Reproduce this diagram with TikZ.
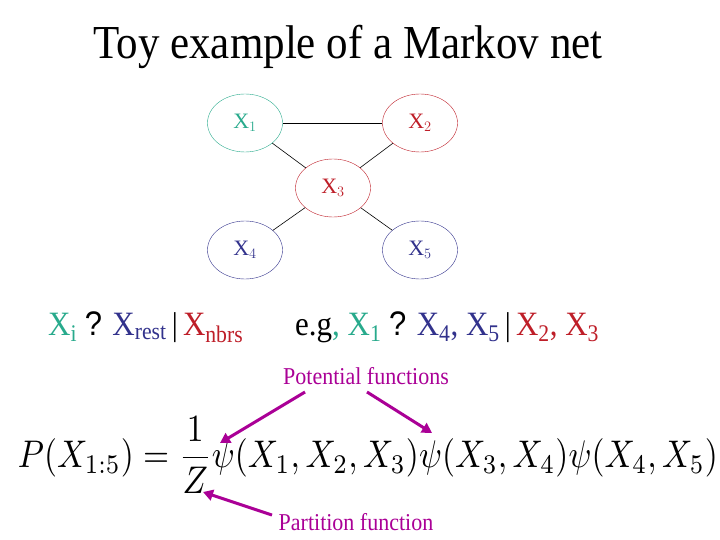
\documentclass[tikz,border=0pt]{standalone}
\usepackage{fontspec}
\usepackage{amsmath}
\setmainfont{Liberation Serif}
\newfontfamily\arial{Liberation Sans}
\usetikzlibrary{shapes.geometric,arrows.meta}
\definecolor{tealc}{RGB}{40,170,140}
\definecolor{redc}{RGB}{190,30,40}
\definecolor{navyc}{RGB}{50,50,140}
\definecolor{magc}{RGB}{170,0,150}
\begin{document}
\begin{tikzpicture}[x=1pt,y=-1pt,
  rv/.style={ellipse,draw,minimum width=75pt,minimum height=58pt,inner sep=0pt,font=\fontsize{22}{24}\selectfont},
  edge/.style={draw=black,line width=0.6pt},
  marrow/.style={draw=magc,line width=3pt,-{Triangle[length=10pt,width=11pt]}},
  lab/.style={text=magc,font=\fontsize{22}{24}\selectfont,inner sep=0pt,yscale=1.1}]
\useasboundingbox (0,0) rectangle (720,540);
\node[font=\fontsize{43}{46}\selectfont,inner sep=0pt,yscale=1.1] (title) at (348,47) {Toy example of a Markov net};
\node[rv,draw=tealc,text=tealc] (x1) at (245,123) {X$_1$};
\node[rv,draw=redc,text=redc] (x2) at (420,123) {X$_2$};
\node[rv,draw=redc,text=redc] (x3) at (333,188) {X$_3$};
\node[rv,draw=navyc,text=navyc] (x4) at (245,250) {X$_4$};
\node[rv,draw=navyc,text=navyc] (x5) at (420,250) {X$_5$};
\draw[edge] (x1) -- (x2);
\draw[edge] (x1) -- (x3);
\draw[edge] (x2) -- (x3);
\draw[edge] (x3) -- (x4);
\draw[edge] (x3) -- (x5);
\node[anchor=base west,inner sep=0pt,font=\fontsize{31}{33}\selectfont,yscale=1.1] (ci) at (48,335)
 {\textcolor{tealc}{X\textsubscript{i}} {\arial ?} \textcolor{navyc}{X\textsubscript{rest}}\,{\fontsize{30}{30}\selectfont|}\,\textcolor{redc}{X\textsubscript{nbrs}}};
\node[anchor=base west,inner sep=0pt,font=\fontsize{31}{33}\selectfont,yscale=1.1] (eg) at (295,335)
 {e.g\textcolor{tealc}{, X\textsubscript{1}} {\arial ?} \textcolor{navyc}{X\textsubscript{4}, X\textsubscript{5}}\,{\fontsize{30}{30}\selectfont|}\,\textcolor{redc}{X\textsubscript{2}, X\textsubscript{3}}};
\node[lab] (pot) at (366,376) {Potential functions};
\node[lab] (part) at (356,522) {Partition function};
\node[inner sep=0pt,yscale=1.15] (eq) at (368,455) {\resizebox{700pt}{!}{$P(X_{1:5})=\dfrac{1}{Z}\psi(X_1,X_2,X_3)\psi(X_3,X_4)\psi(X_4,X_5)$}};
\coordinate (p1s) at (305,392);
\coordinate (p1e) at (220,443);
\coordinate (p2s) at (367,392);
\coordinate (p2e) at (432,433);
\coordinate (zs) at (272,515);
\coordinate (ze) at (203,492);
\draw[marrow] (p1s) -- (p1e);
\draw[marrow] (p2s) -- (p2e);
\draw[marrow] (zs) -- (ze);
\end{tikzpicture}
\end{document}
